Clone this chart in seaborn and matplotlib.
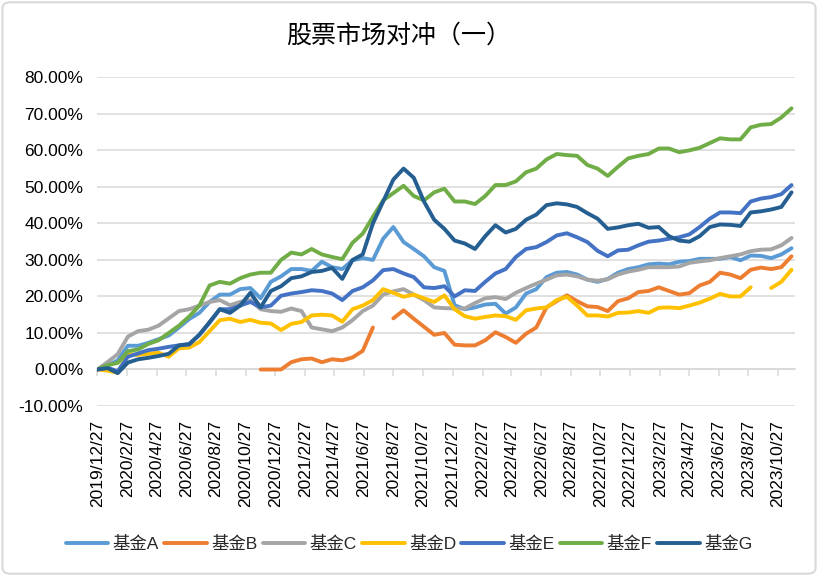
import numpy as np
import pandas as pd
import matplotlib
matplotlib.use("Agg")
import matplotlib.pyplot as plt
import matplotlib.dates as mdates
from matplotlib.lines import Line2D
from matplotlib.patches import FancyBboxPatch
import seaborn as sns

nan = np.nan

# ---------------- data (cumulative return, %) ----------------
start_date = "2019-12-27"
n_points = 69
step_days = 21
dates = pd.date_range(start_date, periods=n_points, freq=f"{step_days}D")

funds = ["基金A", "基金B", "基金C", "基金D", "基金E", "基金F", "基金G"]
colors = ["#5B9BD5", "#ED7D31", "#A5A5A5", "#FFC000", "#4472C4", "#70AD47", "#255E91"]

fund_a = [0, 1.0, 2.5, 6.5, 6.5, 7.3, 8.3, 9.3, 11.5, 13.8,
          15.5, 18.5, 20.5, 20.5, 22, 22.3, 19.5, 24, 25.5, 27.5,
          27.5, 27.0, 29.5, 28, 27.5, 29.9, 30.5, 30, 35.8, 39,
          34.9, 33, 31, 28, 27, 17.6, 16.5, 17, 17.8, 18,
          15.3, 17, 20.8, 22, 25.3, 26.5, 26.7, 26, 24.6, 24,
          24.8, 26.5, 27.5, 28, 28.8, 29, 28.8, 29.5, 29.7, 30.3,
          30.3, 30.3, 30.8, 29.9, 31.2, 31.1, 30.5, 31.5, 33.2]

fund_b = [nan] * 16 + [0, 0, 0, 2.0, 2.8, 3.0, 2.0, 2.8, 2.5, 3.3,
          5.1, 11.5, nan, 14.0, 16.2, 13.9, 11.7, 9.5, 10, 6.8,
          6.6, 6.6, 8, 10.2, 8.9, 7.3, 9.8, 11.5, 17, 18.7,
          20.3, 18.7, 17.3, 17.1, 16, 18.7, 19.5, 21.2, 21.5, 22.5,
          21.5, 20.5, 20.9, 23, 24, 26.5, 26, 25, 27.3, 27.9,
          27.5, 28, 31]

fund_c = [0, 2.0, 4.2, 9, 10.5, 10.9, 12, 14, 16, 16.5,
          17.5, 18.5, 19.0, 17.6, 18.5, 19, 16.5, 16, 15.8, 16.7,
          16, 11.5, 11, 10.5, 11.5, 13.5, 16, 17.5, 20.5, 21.4,
          22, 20.5, 19, 17, 16.8, 16.7, 16.7, 18.2, 19.5, 19.8,
          19.3, 21, 22.3, 23.5, 24.6, 25.8, 26, 25.5, 24.6, 24.3,
          24.7, 26, 26.8, 27.3, 28, 28, 28, 28.2, 29.2, 29.6,
          29.9, 30.5, 31, 31.5, 32.4, 32.8, 32.9, 34, 36]

fund_d = [0, -0.3, -0.9, 4.2, 4.0, 4.3, 4.6, 3.5, 5.8, 6.0,
          7.5, 10.5, 13.5, 13.9, 13, 13.6, 12.8, 12.6, 10.8, 12.5,
          13, 14.8, 15, 14.8, 13.1, 16.5, 17.5, 19, 22, 21,
          19.9, 20.5, 19.5, 18.5, 20.3, 16.5, 14.6, 13.9, 14.4, 14.8,
          14.6, 13.6, 16.2, 16.7, 17, 19, 19.9, 17.5, 14.8, 14.8,
          14.5, 15.5, 15.6, 16, 15.5, 16.9, 17, 16.8, 17.5, 18.3,
          19.4, 20.7, 20, 20, 22.5, nan, 22.3, 24, 27.3]

fund_e = [0, 0.5, -0.5, 3.5, 4.4, 5.3, 5.7, 6.2, 6.6, 6.8,
          9.5, 12.8, 16.5, 16.5, 17.5, 18.5, 17, 17.5, 20.2, 20.8,
          21.2, 21.7, 21.5, 20.8, 19.0, 21.5, 22.5, 24.4, 27.2, 27.5,
          26.3, 25.3, 22.5, 22.3, 22.8, 20, 21.7, 21.5, 24, 26.3,
          27.5, 30.8, 33, 33.5, 34.9, 36.7, 37.3, 36.2, 34.9, 32.5,
          31, 32.6, 32.8, 34, 35, 35.3, 35.8, 36.2, 37, 39,
          41.3, 43, 43, 42.8, 46, 46.8, 47.2, 48, 50.5]

fund_f = [0, 1.2, 1.8, 5, 5.5, 7, 8.0, 10, 12, 14.5,
          17.5, 23, 24, 23.5, 25, 26, 26.5, 26.5, 30, 32,
          31.5, 33, 31.5, 30.8, 30.2, 34.7, 37.2, 41.8, 46.3, 48.3,
          50.3, 47.5, 46.3, 48.5, 49.5, 46, 46, 45.3, 47.5, 50.5,
          50.5, 51.5, 54, 55, 57.5, 59, 58.7, 58.5, 56, 55,
          53, 55.5, 57.8, 58.5, 59, 60.5, 60.5, 59.5, 60, 60.7,
          62, 63.3, 63, 63, 66.3, 67, 67.2, 69, 71.5]

fund_g = [0, 0.4, -1.0, 1.9, 2.8, 3.2, 3.7, 4.3, 6.6, 7.0,
          9.5, 13.0, 16.5, 15.5, 17.5, 21, 17, 21.5, 22.8, 25,
          25.5, 26.7, 27, 27.8, 24.8, 30.0, 31.5, 40, 46, 52,
          55, 52.5, 46, 41, 38.5, 35.3, 34.5, 33, 36.5, 39.5,
          37.5, 38.5, 41, 42.4, 45, 45.5, 45.2, 44.5, 42.8, 41.3,
          38.5, 38.9, 39.5, 39.9, 38.8, 39, 36.5, 35.3, 35, 36.5,
          39, 39.7, 39.6, 39.3, 43, 43.3, 43.8, 44.5, 48.5]

series = [fund_a, fund_b, fund_c, fund_d, fund_e, fund_f, fund_g]

tick_dates = pd.date_range("2019-12-27", "2023-10-27", freq=pd.DateOffset(months=2))
tick_labels = [f"{d.year}/{d.month}/{d.day}" for d in tick_dates]
y_ticks = np.round(np.arange(-0.10, 0.801, 0.10), 2)
y_labels = [f"{v * 100:.2f}%" for v in y_ticks]
title = "股票市场对冲（一）"

# ---------------- long-form table ----------------
frames = []
for name, vals in zip(funds, series):
    s = pd.Series(vals, index=dates, dtype=float) / 100.0
    seg = s.isna().cumsum()
    f = pd.DataFrame({"date": dates, "value": s.values, "fund": name, "seg": seg.values})
    frames.append(f.dropna(subset=["value"]))
df = pd.concat(frames, ignore_index=True)

# ---------------- style ----------------
sns.set_style("white")
plt.rcParams["font.family"] = ["Liberation Sans", "Noto Sans CJK SC", "DejaVu Sans"]
plt.rcParams["axes.unicode_minus"] = False

grid_color = "#D9D9D9"
text_color = "#000000"
fs = 12.5

fig = plt.figure(figsize=(8.18, 5.76), dpi=100)
ax = fig.add_axes([0.1189, 0.2951, 0.8529, 0.5707])

sns.lineplot(data=df, x="date", y="value", hue="fund", hue_order=funds,
             units="seg", estimator=None, sort=False,
             palette=dict(zip(funds, colors)), linewidth=2.8,
             legend=False, ax=ax)

ax.set_xlim(pd.Timestamp("2019-12-27"), pd.Timestamp("2023-12-01"))
ax.set_ylim(-0.10, 0.80)
ax.set_xlabel("")
ax.set_ylabel("")

ax.set_yticks(y_ticks)
ax.set_yticklabels(y_labels, fontsize=fs, color=text_color)
ax.set_xticks(tick_dates)
ax.set_xticklabels(tick_labels, rotation=90, fontsize=fs, color=text_color,
                   ha="center", va="top")
ax.tick_params(axis="both", length=0)
ax.tick_params(axis="y", pad=10)
ax.tick_params(axis="x", pad=10)

ax.yaxis.grid(True, color=grid_color, linewidth=1.1)
ax.xaxis.grid(False)
ax.set_axisbelow(True)
for sp in ax.spines.values():
    sp.set_visible(False)

# category axis crossing at 0 with small tick marks
sec = ax.secondary_xaxis(0, transform=ax.transData)
sec.set_xticks(mdates.date2num(tick_dates))
sec.tick_params(axis="x", length=5, width=1.1, color=grid_color,
                direction="out", labelbottom=False)
for name_sp, sp in sec.spines.items():
    if name_sp == "bottom":
        sp.set_color(grid_color)
        sp.set_linewidth(1.1)
    else:
        sp.set_visible(False)

# title
fig.text(0.487, 0.939, title, fontsize=18, ha="center", va="center",
         color=text_color)

# legend
handles = [Line2D([0], [0], color=c, linewidth=2.8) for c in colors]
fig.legend(handles, funds, loc="center", bbox_to_anchor=(0.5, 0.0556),
           ncol=7, frameon=False, fontsize=fs, handlelength=2.45,
           handletextpad=0.25, columnspacing=0.3)

# chart border
fig.patches.append(FancyBboxPatch((0.003, 0.004), 0.994, 0.992,
                                  boxstyle="round,pad=0,rounding_size=0.01",
                                  transform=fig.transFigure, fill=False,
                                  edgecolor=grid_color, linewidth=1.5))

fig.savefig("out.png", dpi=100)
